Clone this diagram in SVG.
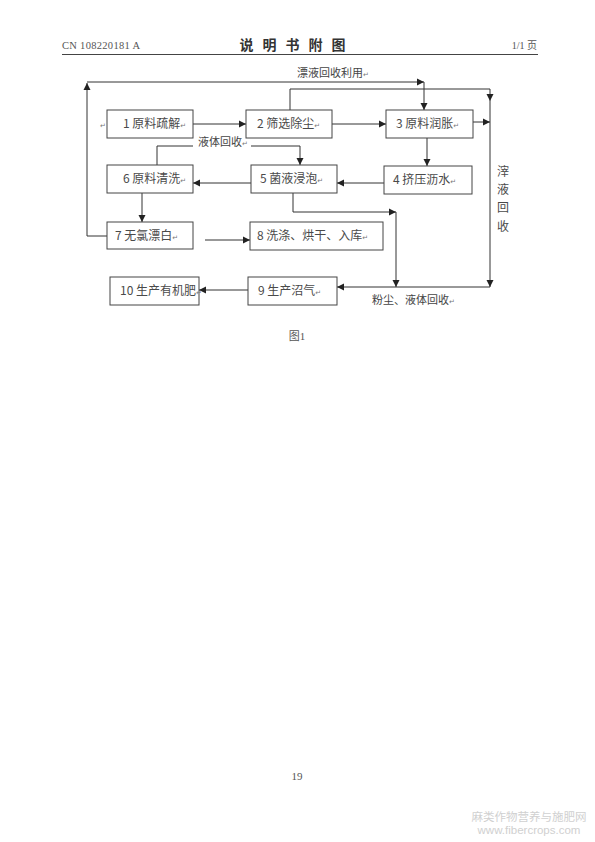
<svg xmlns="http://www.w3.org/2000/svg" width="595" height="842" viewBox="0 0 595 842">
<defs>
<marker id="ah" markerWidth="8" markerHeight="8" refX="7" refY="4" orient="auto" markerUnits="userSpaceOnUse">
<path d="M0,0.5 L7,4 L0,7.5 Z" fill="#222"/>
</marker>
<style>
.box{fill:#fff;stroke:#444;stroke-width:1}
.t{font-family:"Noto Sans CJK SC","Noto Sans CJK JP",sans-serif;font-size:12px;fill:#4a4a4a}
.s{font-family:"Noto Sans CJK SC","Noto Sans CJK JP",sans-serif;font-size:11px;fill:#444}
.pm{font-family:"DejaVu Sans",sans-serif;font-size:7px;fill:#777}
.c{fill:none;stroke:#333;stroke-width:1}
.ca{fill:none;stroke:#333;stroke-width:1;marker-end:url(#ah)}
.hd{font-family:"Liberation Serif",serif;font-size:10.5px;fill:#555}
</style>
</defs>
<rect width="595" height="842" fill="#fff"/>
<g id="header">
<text class="hd" x="62" y="49" letter-spacing="0.3">CN 108220181 A</text>
<text x="297" y="50" text-anchor="middle" font-family="Noto Sans CJK SC, sans-serif" font-size="14" font-weight="bold" fill="#333" letter-spacing="9">说明书附图</text>
<text x="537" y="49" text-anchor="end" font-family="Liberation Serif, Noto Sans CJK SC, serif" font-size="10" fill="#555">1/1 页</text>
<line x1="62" y1="54.5" x2="538" y2="54.5" stroke="#444" stroke-width="1.2"/>
</g>
<g id="connectors">
<path class="ca" d="M193,124 H246"/>
<path class="ca" d="M332,124 H386"/>
<path class="ca" d="M473,122 H490"/>
<path class="ca" d="M107,236 H87 V83"/>
<path class="ca" d="M87,82 H424"/>
<path class="ca" d="M424,82 V110"/>
<path class="ca" d="M290,110 V89 H490 V101"/>
<path class="ca" d="M490,101 V287"/>
<path class="ca" d="M427,138 V166"/>
<path class="ca" d="M384,183 H337"/>
<path class="ca" d="M251,183 H193"/>
<path class="ca" d="M157,165 V146 H300 V165"/>
<path class="ca" d="M142,193 V222"/>
<path class="ca" d="M205,240 H250"/>
<path class="ca" d="M293,193 V212 H396"/>
<path class="ca" d="M396,212 V287"/>
<path class="ca" d="M490,287 H337"/>
<path class="ca" d="M248,290 H199"/>
<rect x="193" y="137" width="58" height="13" fill="#fff"/>
<text class="s" x="198" y="146">液体回收<tspan class="pm">↵</tspan></text>
<text class="s" x="297" y="77">漂液回收利用<tspan class="pm">↵</tspan></text>
<text class="s" x="372" y="304">粉尘、液体回收<tspan class="pm">↵</tspan></text>
<text class="t" x="503" y="176" text-anchor="middle">滓</text>
<text class="t" x="503" y="194" text-anchor="middle">液</text>
<text class="t" x="503" y="212" text-anchor="middle">回</text>
<text class="t" x="503" y="231" text-anchor="middle">收</text>
<text class="pm" x="100" y="128">↵</text>
</g>
<g id="n1"><rect class="box" x="107" y="110" width="86" height="28"/><text class="t" x="123" y="128">1 原料疏解<tspan class="pm">↵</tspan></text></g>
<g id="n2"><rect class="box" x="246" y="110" width="86" height="28"/><text class="t" x="257" y="128">2 筛选除尘<tspan class="pm">↵</tspan></text></g>
<g id="n3"><rect class="box" x="386" y="110" width="87" height="28"/><text class="t" x="396" y="128">3 原料润胀<tspan class="pm">↵</tspan></text></g>
<g id="n4"><rect class="box" x="384" y="166" width="88" height="28"/><text class="t" x="393" y="184">4 挤压沥水<tspan class="pm">↵</tspan></text></g>
<g id="n5"><rect class="box" x="251" y="165" width="86" height="28"/><text class="t" x="260" y="183">5 菌液浸泡<tspan class="pm">↵</tspan></text></g>
<g id="n6"><rect class="box" x="107" y="165" width="86" height="28"/><text class="t" x="123" y="183">6 原料清洗<tspan class="pm">↵</tspan></text></g>
<g id="n7"><rect class="box" x="107" y="222" width="86" height="27"/><text class="t" x="115" y="240">7 无氯漂白<tspan class="pm">↵</tspan></text></g>
<g id="n8"><rect class="box" x="250" y="222" width="133" height="28"/><text class="t" x="257" y="240">8 洗涤、烘干、入库<tspan class="pm">↵</tspan></text></g>
<g id="n9"><rect class="box" x="248" y="277" width="89" height="28"/><text class="t" x="258" y="295">9 生产沼气<tspan class="pm">↵</tspan></text></g>
<g id="n10"><rect class="box" x="110" y="277" width="89" height="28"/><text class="t" x="120" y="295">10 生产有机肥<tspan class="pm">↵</tspan></text></g>
<g id="footer">
<text x="297" y="340" text-anchor="middle" font-family="Liberation Serif, Noto Sans CJK SC, serif" font-size="11" fill="#555">图1</text>
<text x="297" y="780" text-anchor="middle" font-family="Liberation Serif, serif" font-size="11" fill="#555">19</text>
<text x="529" y="821" text-anchor="middle" font-family="Noto Sans CJK SC, sans-serif" font-size="11.5" fill="#d0d0d0">麻类作物营养与施肥网</text>
<text x="529" y="834" text-anchor="middle" font-family="Liberation Sans, sans-serif" font-size="11.5" fill="#d0d0d0">www.fibercrops.com</text>
</g>
</svg>
